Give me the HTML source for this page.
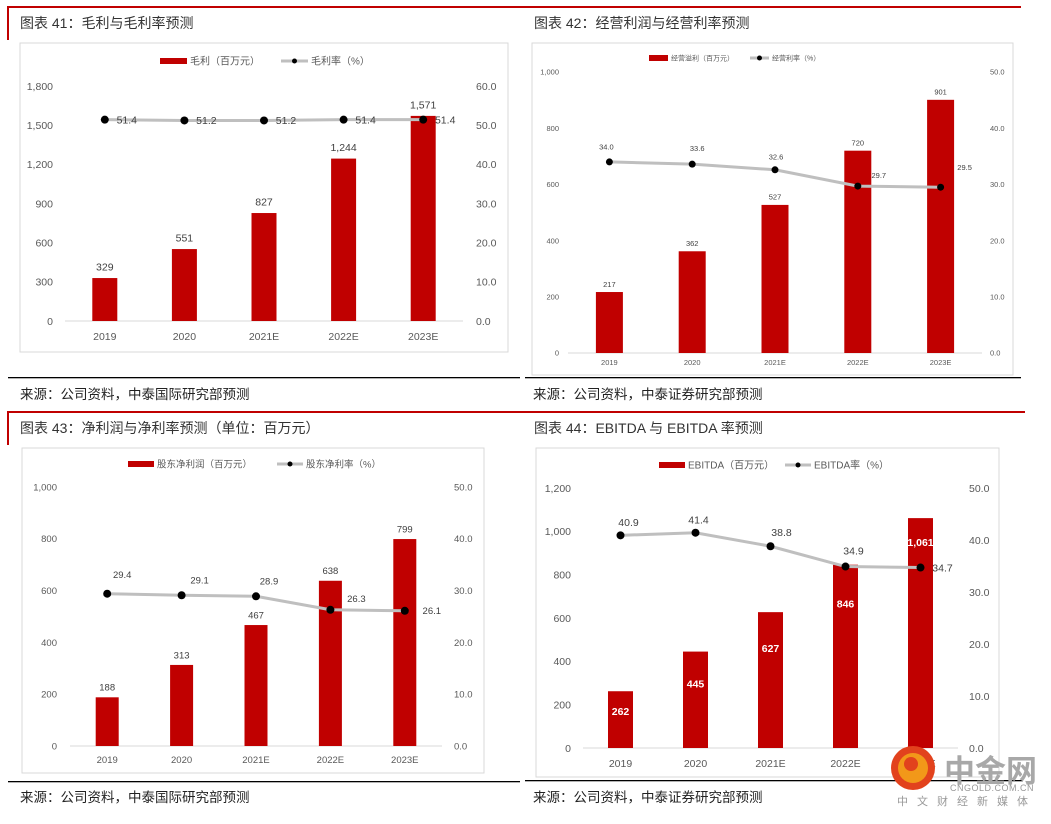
<!DOCTYPE html>
<html><head><meta charset="utf-8">
<style>
html,body{margin:0;padding:0;background:#fff;}
body{width:1051px;height:819px;overflow:hidden;font-family:"Liberation Sans","Noto Sans CJK SC",sans-serif;}
svg text{font-family:"Liberation Sans","Noto Sans CJK SC",sans-serif;}
</style></head>
<body>
<svg id="page" width="1051" height="819" viewBox="0 0 1051 819" xmlns="http://www.w3.org/2000/svg">
  <!-- headers -->
  <g>
    <rect x="7" y="6" width="1014" height="2" fill="#c00000"/>
    <rect x="7" y="6" width="2" height="34" fill="#c00000"/>
    <rect x="7" y="411" width="1018" height="2" fill="#c00000"/>
    <rect x="7" y="411" width="2" height="34" fill="#c00000"/>
  </g>
  <text x="20" y="28" font-size="14" fill="#333">图表 41：毛利与毛利率预测</text>
  <text x="534" y="28" font-size="14" fill="#333">图表 42：经营利润与经营利率预测</text>
  <text x="20" y="433" font-size="14" fill="#333">图表 43：净利润与净利率预测（单位：百万元）</text>
  <text x="534" y="433" font-size="14" fill="#333">图表 44：EBITDA 与 EBITDA 率预测</text>
  <!-- source lines -->
  <rect x="8" y="377" width="512" height="1.3" fill="#000"/>
  <rect x="525" y="377" width="496" height="1.3" fill="#000"/>
  <rect x="8" y="781" width="512" height="1.3" fill="#000"/>
  <rect x="525" y="780" width="498" height="1.3" fill="#000"/>
  <text x="20" y="399" font-size="13.5" fill="#222">来源：公司资料，中泰国际研究部预测</text>
  <text x="533" y="399" font-size="13.5" fill="#222">来源：公司资料，中泰证券研究部预测</text>
  <text x="20" y="802" font-size="13.5" fill="#222">来源：公司资料，中泰国际研究部预测</text>
  <text x="533" y="802" font-size="13.5" fill="#222">来源：公司资料，中泰证券研究部预测</text>
  <g id="charts"></g>
  <!-- watermark -->
  <g>
    <circle cx="913" cy="768" r="22" fill="#e2421d"/>
    <circle cx="913" cy="768" r="15" fill="#f4a21a" opacity="0.9"/>
    <circle cx="911" cy="764" r="7" fill="#e2421d"/>
    <text x="944" y="782" font-size="31" font-weight="bold" fill="#a8a8a8">中金网</text>
    <text x="950" y="791" font-size="9" fill="#999" letter-spacing="0.5">CNGOLD.COM.CN</text>
    <text x="897" y="805" font-size="11" fill="#999" letter-spacing="9">中文财经新媒体</text>
  </g>
</svg>
<script>
const categories = ["2019","2020","2021E","2022E","2023E"];
const grossProfit = [329,551,827,1244,1571];
const grossMargin = [51.4,51.2,51.2,51.4,51.4];
const opProfit = [217,362,527,720,901];
const opMargin = [34.0,33.6,32.6,29.7,29.5];
const netProfit = [188,313,467,638,799];
const netMargin = [29.4,29.1,28.9,26.3,26.1];
const ebitda = [262,445,627,846,1061];
const ebitdaMargin = [40.9,41.4,38.8,34.9,34.7];
const leftTicks1 = [0,300,600,900,1200,1500,1800];
const rightTicks1 = [0,10,20,30,40,50,60];
const leftTicks2 = [0,200,400,600,800,1000];
const rightTicks2 = [0,10,20,30,40,50];
const leftTicks4 = [0,200,400,600,800,1000,1200];
const rightTicks4 = [0,10,20,30,40,50];

const NS="http://www.w3.org/2000/svg";
const root=document.getElementById('charts');
function mk(tag,attrs,parent,txt){const e=document.createElementNS(NS,tag);for(const k in attrs)e.setAttribute(k,attrs[k]);if(txt!==undefined)e.textContent=txt;parent.appendChild(e);return e;}
function fmt(v){return v.toLocaleString('en-US');}

function drawChart(c){
  const g=mk('g',{},root);
  
  
  const box=mk('rect',{x:c.box[0],y:c.box[1],width:c.box[2],height:c.box[3],fill:'#fff',stroke:'#d9d9d9','stroke-width':1},g);
  
  
  const lmax=c.lt[c.lt.length-1], rmax=c.rt[c.rt.length-1];
  const yL=v=>c.y0-(v/lmax)*(c.y0-c.y1);
  const yR=v=>c.y0-(v/rmax)*(c.y0-c.y1);
  const band=(c.x1-c.x0)/categories.length;
  const xC=i=>c.x0+band*(i+0.5);
  // ticks
  c.lt.forEach(t=>{const e=mk('text',{x:c.lx,y:yL(t)+c.fs/2.8,'font-size':c.fs,fill:'#595959','text-anchor':'end'},g,fmt(t));
    });
  c.rt.forEach(t=>{const e=mk('text',{x:c.rx,y:yR(t)+c.fs/2.8,'font-size':c.fs,fill:'#595959'},g,t.toFixed(1));
    });
  const base=mk('line',{x1:c.x0,x2:c.x1,y1:c.y0,y2:c.y0,stroke:'#d9d9d9','stroke-width':1},g);
  
  // bars
  c.bars.forEach((v,i)=>{
    const r=mk('rect',{x:xC(i)-c.bw/2,y:yL(v),width:c.bw,height:c.y0-yL(v),fill:'#c00000'},g);
    
    
    const ty=c.inside? yL(v)+c.inOff[i] : yL(v)-c.fs*0.7;
    const t=mk('text',{x:xC(i),y:ty,'font-size':c.vfs,fill:c.inside?'#fff':'#404040','font-weight':c.inside?'bold':'normal','text-anchor':'middle'},g,fmt(v));
    
  });
  // categories
  categories.forEach((cat,i)=>{const t=mk('text',{x:xC(i),y:c.y0+c.cdy,'font-size':c.fs,fill:'#595959','text-anchor':'middle'},g,cat);
    });
  // line
  const pts=c.line.map((v,i)=>xC(i)+','+yR(v)).join(' ');
  const pl=mk('polyline',{points:pts,fill:'none',stroke:'#bfbfbf','stroke-width':3},g);
  
  c.line.forEach((v,i)=>{
    const d=mk('circle',{cx:xC(i),cy:yR(v),r:c.dr,fill:'#000'},g);
    
    const t=mk('text',{x:xC(i)+c.lo[i][0],y:yR(v)+c.lo[i][1]+c.vfs/2.8,'font-size':c.vfs,fill:'#404040','text-anchor':'middle'},g,v.toFixed(1));
    
  });
  // legend
  const L=c.leg;
  const lg=mk('g',{},g);
  
  mk('rect',{x:L.bx,y:L.y-3,width:L.sw,height:6,fill:'#c00000'},lg);
  mk('text',{x:L.bx+L.sw+3,y:L.y+L.fs/2.8,'font-size':L.fs,fill:'#595959'},lg,c.barName);
  mk('line',{x1:L.lx,x2:L.lx+L.sw,y1:L.y,y2:L.y,stroke:'#bfbfbf','stroke-width':3},lg);
  mk('circle',{cx:L.lx+L.sw/2,cy:L.y,r:2.5,fill:'#000'},lg);
  mk('text',{x:L.lx+L.sw+3,y:L.y+L.fs/2.8,'font-size':L.fs,fill:'#595959'},lg,c.lineName);
}

drawChart({id:'chart-gross-profit',box:[20,43,488,309],lt:leftTicks1,rt:rightTicks1,y0:321,y1:86,x0:65,x1:463,lx:53,rx:476,fs:10.5,vfs:10.5,cdy:19,bw:25,
  bars:grossProfit,line:grossMargin,dr:4,lo:[[22,0],[22,0],[22,0],[22,0],[22,0]],
  leg:{bx:160,lx:281,y:61,sw:27,fs:10},barName:'毛利（百万元）',lineName:'毛利率（%）'});
drawChart({id:'chart-operating-profit',box:[532,43,481,332],lt:leftTicks2,rt:rightTicks2,y0:353,y1:72,x0:568,x1:982,lx:559,rx:990,fs:7.5,vfs:7.5,cdy:12,bw:27,
  bars:opProfit,line:opMargin,dr:3.5,lo:[[-3,-15],[5,-16],[1,-13],[21,-11],[24,-20]],
  leg:{bx:649,lx:750,y:58,sw:19,fs:7},barName:'经营溢利（百万元）',lineName:'经营利率（%）'});
drawChart({id:'chart-net-profit',box:[22,448,462,325],lt:leftTicks2,rt:rightTicks2,y0:746,y1:487,x0:70,x1:442,lx:57,rx:454,fs:9.5,vfs:9.5,cdy:17,bw:23,
  bars:netProfit,line:netMargin,dr:4,lo:[[15,-19],[18,-15],[13,-15],[26,-11],[27,0]],
  leg:{bx:128,lx:277,y:464,sw:26,fs:9.5},barName:'股东净利润（百万元）',lineName:'股东净利率（%）'});
drawChart({id:'chart-ebitda',box:[536,448,463,329],lt:leftTicks4,rt:rightTicks4,y0:748,y1:488,x0:583,x1:958,lx:571,rx:969,fs:10.5,vfs:10.5,cdy:19,bw:25,inside:true,
  inOff:[24,36,40,43,28],
  bars:ebitda,line:ebitdaMargin,dr:4,lo:[[8,-13],[3,-13],[11,-14],[8,-16],[22,0]],
  leg:{bx:659,lx:785,y:465,sw:26,fs:10},barName:'EBITDA（百万元）',lineName:'EBITDA率（%）'});
</script>
</body></html>
